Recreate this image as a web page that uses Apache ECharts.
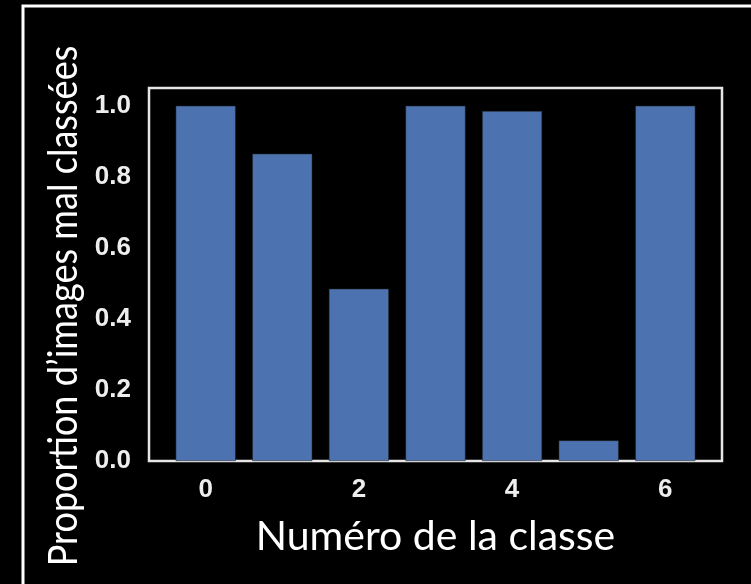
<!DOCTYPE html>
<html>
<head>
<meta charset="utf-8">
<script src="https://cdn.jsdelivr.net/npm/echarts@6/dist/echarts.min.js"></script>
<style>
html,body{margin:0;padding:0;background:#000;}
#chart{width:751px;height:584px;}
</style>
</head>
<body>
<div id="chart"></div>
<script>
const classes = [0, 1, 2, 3, 4, 5, 6];
const proportions = [1.0, 0.865, 0.485, 1.0, 0.985, 0.058, 1.0];
const xTickValues = [0, 2, 4, 6];
const xAxisTitle = 'Numéro de la classe';
const yAxisTitle = 'Proportion d’images mal classées';

const chart = echarts.init(document.getElementById('chart'), null, {renderer: 'canvas'});
const nameFont = 'Lato';
chart.setOption({
  backgroundColor: '#000',
  animation: false,
  graphic: [
    {type: 'rect', shape: {x: 23, y: 6, width: 900, height: 800}, style: {fill: 'none', stroke: '#fff', lineWidth: 3}, silent: true},
    {type: 'text', x: 64, y: 306, rotation: Math.PI / 2, scaleX: 0.88,
     style: {text: yAxisTitle, fill: '#fff', fontSize: 41, fontFamily: nameFont, align: 'center', verticalAlign: 'middle'}}
  ],
  grid: {left: 149, top: 88, right: 29, bottom: 123, show: true, borderColor: '#e6e6e6', borderWidth: 2.5, backgroundColor: 'transparent'},
  xAxis: {
    type: 'value', min: -0.74, max: 6.74,
    name: xAxisTitle, nameLocation: 'middle', nameGap: 55,
    nameTextStyle: {color: '#fff', fontSize: 41, fontFamily: nameFont},
    axisLine: {show: false}, axisTick: {show: false}, splitLine: {show: false},
    axisLabel: {customValues: xTickValues, color: '#eee', fontSize: 26, fontWeight: 'bold', fontFamily: 'Liberation Sans', margin: 16}
  },
  yAxis: {
    type: 'value', min: 0, max: 1.05, interval: 0.2,
    axisLine: {show: false}, axisTick: {show: false}, splitLine: {show: false},
    axisLabel: {color: '#eee', fontSize: 26, fontWeight: 'bold', fontFamily: 'Liberation Sans', margin: 18, showMaxLabel: false,
      formatter: v => v.toFixed(1)}
  },
  series: [{
    type: 'bar',
    data: classes.map((c, i) => [c, proportions[i]]),
    barWidth: 60,
    itemStyle: {color: '#4c72b0', borderColor: '#222', borderWidth: 0.5}
  }]
});
</script>
</body>
</html>
